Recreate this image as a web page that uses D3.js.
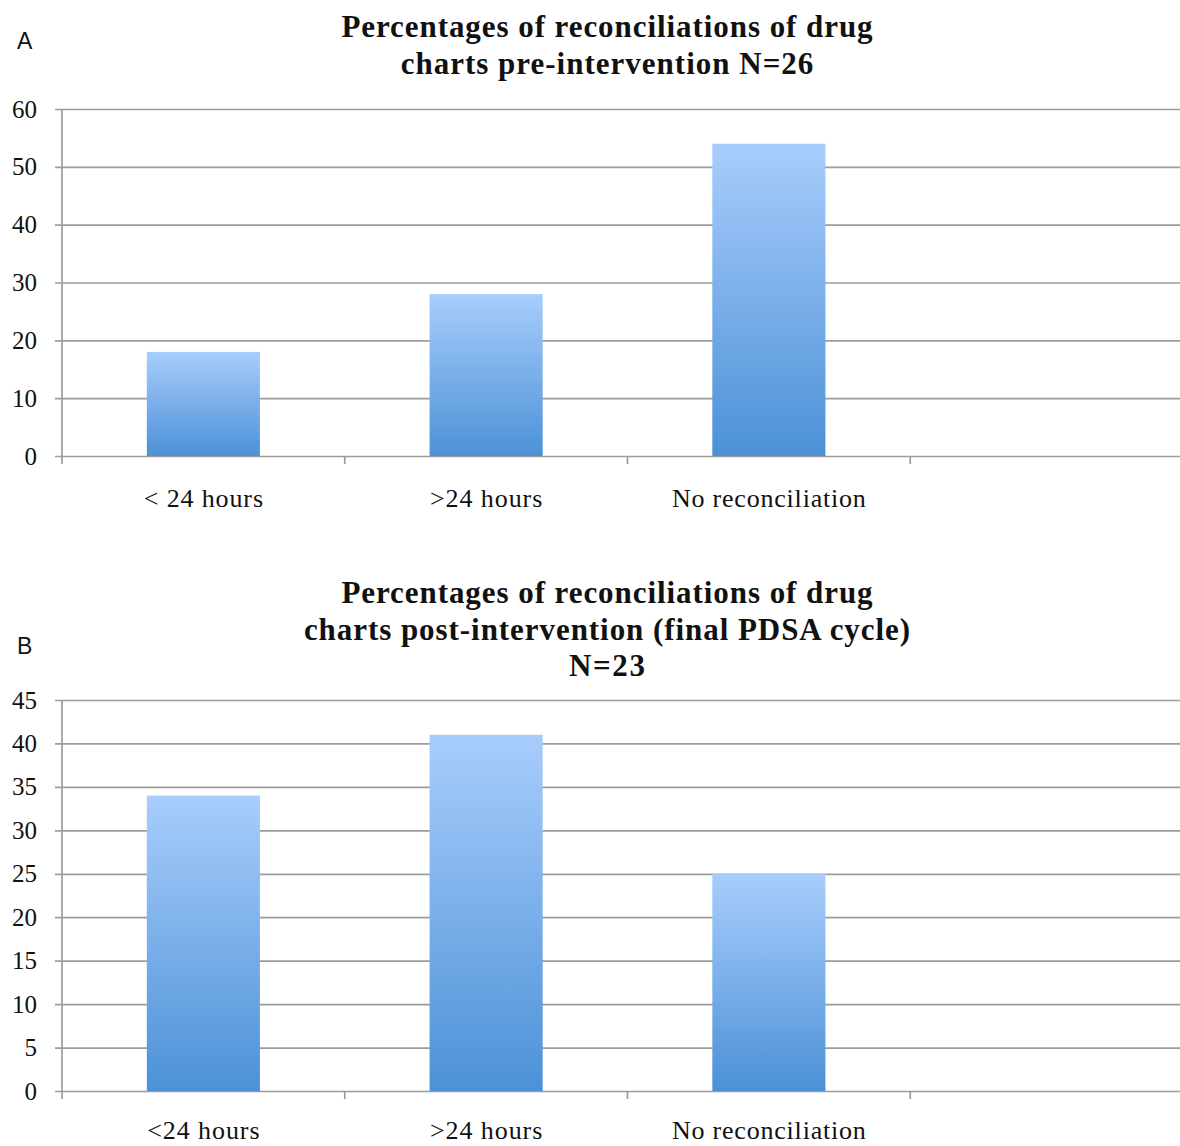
<!DOCTYPE html>
<html>
<head>
<meta charset="utf-8">
<script src="https://cdn.jsdelivr.net/npm/d3@7"></script>
<style>
  html, body { margin: 0; padding: 0; background: #fff; }
  svg { display: block; }
</style>
</head>
<body>
<svg id="chart" width="1180" height="1146"></svg>
<script>
// Panel A: before the intervention
const categoriesA = ["< 24 hours", ">24 hours", "No reconciliation", ""];
const valuesA = [18, 28, 54];
const ticksA = [0, 10, 20, 30, 40, 50, 60];
const titleA = ["Percentages of reconciliations of drug", "charts pre-intervention N=26"];

// Panel B: after the final PDSA cycle
const categoriesB = ["<24 hours", ">24 hours", "No reconciliation", ""];
const valuesB = [34, 41, 25];
const ticksB = [0, 5, 10, 15, 20, 25, 30, 35, 40, 45];
const titleB = ["Percentages of reconciliations of drug", "charts post-intervention (final PDSA cycle)", "N=23"];

const svg = d3.select("#chart");

const defs = svg.append("defs");
const grad = defs.append("linearGradient")
  .attr("id", "barFill").attr("x1", 0).attr("y1", 0).attr("x2", 0).attr("y2", 1);
grad.append("stop").attr("offset", "0%").attr("stop-color", "#a8cdfc");
grad.append("stop").attr("offset", "100%").attr("stop-color", "#4c91d7");

const serif = "'Liberation Serif', 'DejaVu Serif', serif";
const gridColor = "#9c9c9c";

// widen text a little with extra letter spacing (the serif used is narrower than the design face)
function widen(sel, factor) {
  sel.each(function () {
    const w = this.getComputedTextLength();
    if (w > 0) d3.select(this).attr("textLength", w * factor).attr("lengthAdjust", "spacing");
  });
}

function panel(opts) {
  const { cats, vals, ticks, title, letter, letterY, titleY, top, bottom, max, labelY } = opts;
  const left = 62, right = 1193;
  const x = d3.scaleBand().domain(cats).range([left, right]).padding(0);
  const y = d3.scaleLinear().domain([0, max]).range([bottom, top]);
  const g = svg.append("g");

  // panel letter
  g.append("text").attr("x", 17).attr("y", letterY)
    .style("font-family", "'Liberation Sans', Arial, sans-serif")
    .style("font-size", "23px").attr("fill", "#111").text(letter);

  // title lines
  const t = g.append("g").selectAll("text").data(title).join("text")
    .attr("x", 607).attr("y", (d, i) => titleY + i * 36.5)
    .attr("text-anchor", "middle")
    .style("font-family", serif).style("font-weight", "bold")
    .style("font-size", "31px").attr("fill", "#111").text(d => d);
  widen(t, 1.07);

  // horizontal gridlines with left tick marks and labels
  const yAxis = d3.axisLeft(y).tickValues(ticks).tickSize(-(right - left)).tickSizeOuter(0).tickPadding(25);
  const ya = g.append("g").attr("transform", `translate(${left},0)`).call(yAxis);
  ya.select(".domain").remove();
  ya.selectAll(".tick line").attr("stroke", gridColor).attr("stroke-width", 1.7).attr("x1", -7);
  ya.selectAll(".tick text")
    .style("font-family", serif).style("font-size", "25px").attr("fill", "#111");

  // vertical axis line
  g.append("line").attr("x1", left).attr("x2", left).attr("y1", y(max)).attr("y2", bottom + 8)
    .attr("stroke", gridColor).attr("stroke-width", 1.7);

  // category tick marks below the baseline
  g.append("g").selectAll("line").data(cats.slice(1)).join("line")
    .attr("x1", d => x(d)).attr("x2", d => x(d))
    .attr("y1", bottom).attr("y2", bottom + 8)
    .attr("stroke", gridColor).attr("stroke-width", 1.7);

  // bars
  const bw = x.bandwidth() * 0.4;
  g.append("g").selectAll("rect").data(vals).join("rect")
    .attr("x", (d, i) => x(cats[i]) + (x.bandwidth() - bw) / 2)
    .attr("width", bw)
    .attr("y", d => y(d))
    .attr("height", d => bottom - y(d))
    .attr("fill", "url(#barFill)");

  // category labels
  const lab = g.append("g").selectAll("text").data(cats.filter(c => c)).join("text")
    .attr("x", d => x(d) + x.bandwidth() / 2)
    .attr("y", labelY)
    .attr("text-anchor", "middle")
    .style("font-family", serif).style("font-size", "26px").attr("fill", "#111")
    .text(d => d);
  widen(lab, 1.07);
}

panel({ cats: categoriesA, vals: valuesA, ticks: ticksA, title: titleA, letter: "A",
  letterY: 49, titleY: 37, top: 109, bottom: 456, max: 60, labelY: 507 });
panel({ cats: categoriesB, vals: valuesB, ticks: ticksB, title: titleB, letter: "B",
  letterY: 654, titleY: 603, top: 700, bottom: 1091, max: 45, labelY: 1139 });
</script>
</body>
</html>
